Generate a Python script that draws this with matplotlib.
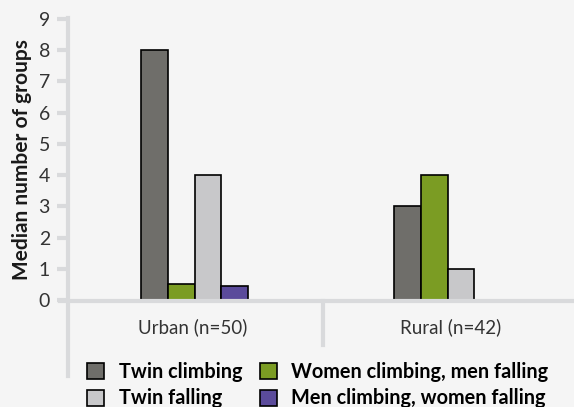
import numpy as np
import matplotlib.pyplot as plt
from matplotlib.lines import Line2D
from matplotlib.patches import Patch

plt.rcParams['font.family'] = ['Lato', 'DejaVu Sans']

categories = ["Urban (n=50)", "Rural (n=42)"]
series = ["Twin climbing", "Women climbing, men falling",
          "Twin falling", "Men climbing, women falling"]
values = {
    "Twin climbing": [8, 3],
    "Women climbing, men falling": [0.5, 4],
    "Twin falling": [4, 1],
    "Men climbing, women falling": [0.45, 0],
}
colors = {
    "Twin climbing": "#6f6e6a",
    "Women climbing, men falling": "#7b9c23",
    "Twin falling": "#c8c8ca",
    "Men climbing, women falling": "#5b4b9b",
}
yticks = list(range(10))

bg = "#f5f5f5"
grid_grey = "#d9dadc"
W, H = 574, 407

fig = plt.figure(figsize=(W / 100, H / 100), dpi=100, facecolor=bg)
ax = fig.add_axes([68 / W, 1 - 300 / H, 1 - 68 / W, 281 / H], facecolor=bg)

x = np.arange(len(categories))
width = 27 / 255
for i, name in enumerate(series):
    offs = (i - 1.5) * width
    vals = values[name]
    for xi, v in zip(x, vals):
        if v > 0:
            ax.bar(xi + offs, v, width, color=colors[name],
                   edgecolor="black", linewidth=1.2, zorder=3)

ax.set_xlim(-0.5, 1.5)
ax.set_ylim(0, 9)
ax.set_yticks(yticks)
ax.set_yticklabels([str(t) for t in yticks], fontsize=14, color="#333333")
ax.tick_params(axis="y", length=8, width=3, color=grid_grey, pad=5)
ax.set_xticks([])
for s in ax.spines.values():
    s.set_visible(False)

ax.set_ylabel("Median number of groups", fontsize=15, fontweight="bold",
              color="#1a1a1a", labelpad=5)

# frame lines: left axis running below the plot, baseline and category divider
fig.add_artist(Line2D([68 / W, 68 / W], [1 - 18 / H, 1 - 376 / H],
                      color=grid_grey, lw=3, zorder=1))
fig.add_artist(Line2D([60 / W, 1], [1 - 301 / H, 1 - 301 / H],
                      color=grid_grey, lw=3, zorder=5))
fig.add_artist(Line2D([323 / W, 323 / W], [1 - 301 / H, 1 - 345 / H],
                      color=grid_grey, lw=3, zorder=1))

for xi, cat in zip([193, 451], categories):
    fig.text(xi / W, 1 - 327 / H, cat, ha="center", va="center",
             fontsize=13.5, color="#333333")

# two-column legend fills column-wise
order = ["Twin climbing", "Twin falling",
         "Women climbing, men falling", "Men climbing, women falling"]
handles = [Patch(facecolor=colors[n], edgecolor="black", linewidth=1.2)
           for n in order]
fig.legend(handles, order, loc="center", bbox_to_anchor=(318 / W, 1 - 385 / H),
           ncol=2, frameon=False, handlelength=0.85, handleheight=0.85,
           handletextpad=0.75, columnspacing=0.85, labelspacing=0.35,
           borderpad=0.0, prop={"weight": "bold", "size": 14.3})

fig.savefig("out.png", dpi=100, facecolor=bg)
